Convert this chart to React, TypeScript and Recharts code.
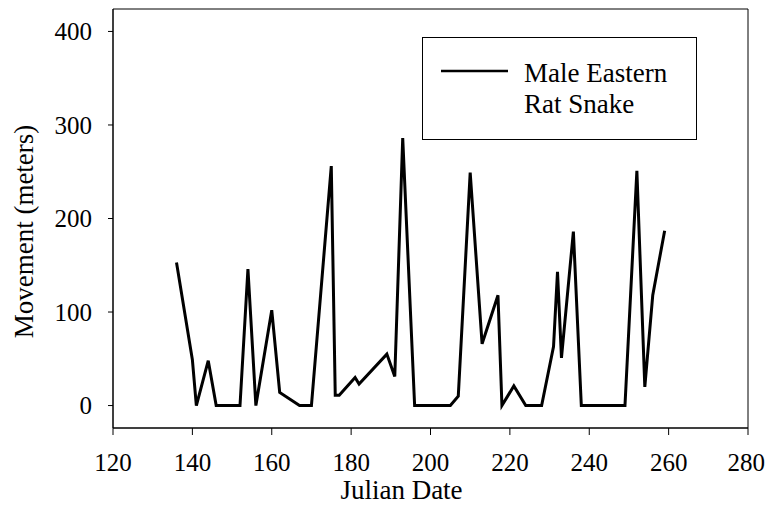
import { LineChart, Line, XAxis, YAxis, ReferenceArea, Legend } from "recharts";

const FONT = '"Liberation Serif", "Times New Roman", serif';

// Julian day of each observation and the movement in meters
const days = [
  136, 140, 141, 144, 146, 152, 154, 156, 160, 162, 167, 170, 175, 176, 177, 181,
  182, 189, 191, 193, 196, 205, 207, 210, 213, 217, 218, 221, 224, 228, 231, 232,
  233, 236, 238, 249, 252, 254, 256, 259,
];
const movement = [
  153, 49, 0, 48, 0, 0, 146, 0, 102, 14, 0, 0, 256, 11, 11, 30,
  23, 55, 31, 286, 0, 0, 10, 249, 66, 118, 0, 21, 0, 0, 63, 143,
  51, 186, 0, 0, 251, 20, 118, 187,
];
const xTicks = [120, 140, 160, 180, 200, 220, 240, 260, 280];
const yTicks = [0, 100, 200, 300, 400];
const seriesName = ["Male Eastern", "Rat Snake"];

const data = days.map((d, i) => ({ day: d, move: movement[i] }));

function LegendBox() {
  return (
    <svg width={275} height={103} style={{ display: "block" }}>
      <rect x={0.5} y={0.5} width={274} height={102} fill="#fff" stroke="#000" />
      <line x1={19} y1={34} x2={86} y2={34} stroke="#000" strokeWidth={2.5} />
      <text x={102} y={45} fontFamily={FONT} fontSize={27} fill="#000">
        {seriesName[0]}
      </text>
      <text x={102} y={76} fontFamily={FONT} fontSize={27} fill="#000">
        {seriesName[1]}
      </text>
    </svg>
  );
}

export default function App() {
  return (
    <div style={{ position: "relative", width: 757, height: 500 }}>
      <LineChart
        width={757}
        height={500}
        data={data}
        margin={{ top: 1, right: 17, left: 0, bottom: 0 }}
      >
        <XAxis
          type="number"
          dataKey="day"
          domain={[120, 280]}
          ticks={xTicks}
          height={80}
          tickSize={7}
          tickMargin={18}
          axisLine={{ stroke: "#000" }}
          tickLine={{ stroke: "#000" }}
          tick={{ fill: "#000", fontSize: 25, fontFamily: FONT }}
          label={{
            content: ({ viewBox }: any) => (
              <text
                x={viewBox.x + viewBox.width / 2 - 29}
                y={491}
                textAnchor="middle"
                fontFamily={FONT}
                fontSize={27}
                fill="#000"
              >
                Julian Date
              </text>
            ),
          }}
        />
        <YAxis
          type="number"
          domain={[-24, 424]}
          ticks={yTicks}
          width={105}
          tickSize={5}
          tickMargin={16}
          axisLine={{ stroke: "#000" }}
          tickLine={{ stroke: "#000" }}
          tick={{ fill: "#000", fontSize: 25, fontFamily: FONT }}
          label={{
            content: ({ viewBox }: any) => {
              const cx = 16;
              const cy = viewBox.y + viewBox.height / 2 + 13;
              return (
                <text
                  x={cx}
                  y={cy}
                  transform={`rotate(-90 ${cx} ${cy})`}
                  textAnchor="middle"
                  dominantBaseline="central"
                  fontFamily={FONT}
                  fontSize={27}
                  fill="#000"
                >
                  Movement (meters)
                </text>
              );
            },
          }}
        />
        <ReferenceArea x1={120} x2={280} y1={-24} y2={424} fill="none" stroke="#000" strokeWidth={1} />
        <Legend
          layout="vertical"
          align="center"
          verticalAlign="middle"
          wrapperStyle={{ position: "absolute", left: 414, top: 29, width: 275, height: 103 }}
          content={() => <LegendBox />}
        />
        <Line
          type="linear"
          dataKey="move"
          stroke="#000"
          strokeWidth={3}
          dot={false}
          isAnimationActive={false}
        />
      </LineChart>
    </div>
  );
}
